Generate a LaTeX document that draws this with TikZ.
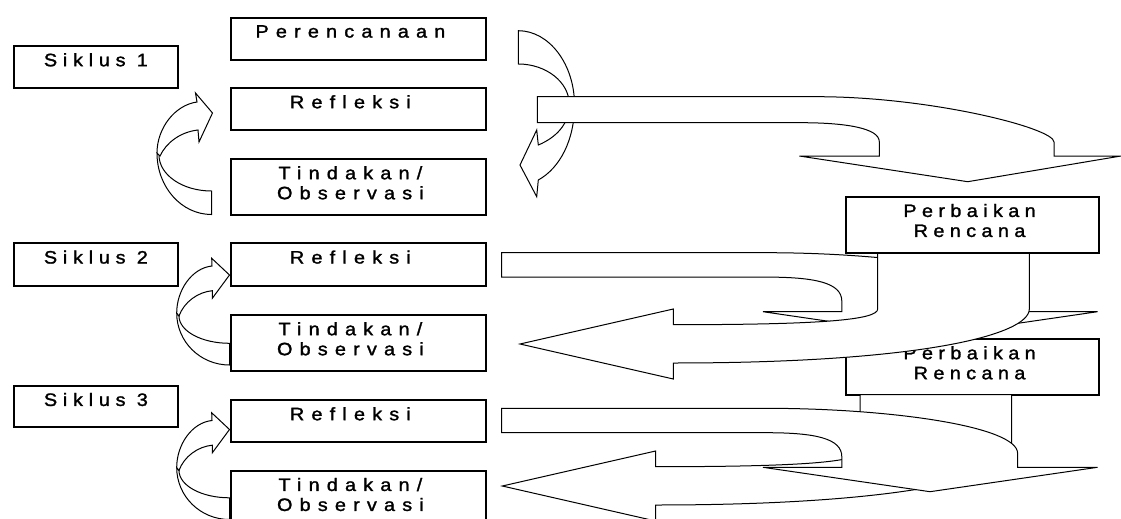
\documentclass[tikz,border=0pt]{standalone}
\usepackage{fontspec}
\setmainfont{Liberation Sans}
\newfontfamily\boxfont[FakeStretch=1.1, LetterSpace=40, FakeBold=1.5]{Liberation Sans}
\newfontfamily\planfont[FakeStretch=1.1, LetterSpace=30, FakeBold=1.5]{Liberation Sans}
\newfontfamily\cyclefont[FakeStretch=1.1, LetterSpace=32, FakeBold=1.5]{Liberation Sans}
\tikzset{
  box/.style={draw=black, fill=white, line width=1.8pt, inner sep=0pt, anchor=north west},
  blk/.style={draw=black, fill=white, line width=1pt, line join=miter},
  lbl/.style={inner sep=0pt, anchor=north, align=center,
    font=\boxfont\fontsize{18}{20}\selectfont},
  plbl/.style={lbl, font=\planfont\fontsize{18}{20}\selectfont},
  clbl/.style={lbl, font=\cyclefont\fontsize{18}{20}\selectfont},
  % curved arrow from Tindakan back up to Refleksi (cycles 2 and 3)
  pics/looparrow/.style={code={
    \draw[blk] (176.7,313) .. controls (176.7,341.7) and (200.3,365) .. (229.5,365)
      -- (229.5,343.3) .. controls (201.6,343.3) and (179,331.1) .. (179,316) -- cycle;
    \draw[blk] (176.7,313) .. controls (176.7,290) and (192,268) .. (212,266)
      -- (211.7,258.3) -- (229.5,275) -- (212.3,298.3) -- (212.3,290.7)
      .. controls (198,292) and (184,302) .. (179,316) -- cycle;
  }},
  % wide arrow from Refleksi bending down towards the next plan
  pics/downarrow/.style={code={
    \draw[blk] (501.7,0) -- (766,0) .. controls (890,0) and (1017.6,18) .. (1017.6,45)
      -- (1017.6,59) -- (1097.5,59) -- (930,83.4) -- (763,59) -- (841.8,59) -- (841.8,48.4)
      .. controls (841.8,30) and (815,24.4) .. (766,24.4) -- (501.7,24.4) -- cycle;
  }},
  % arrow leaving a revised plan, bending left to the next action
  pics/backarrow/.style={code={
    \draw[blk] (0,-56.3) -- (0,0) .. controls (0,11) and (-57.7,15.7) .. (-204.4,15.7)
      -- (-204.4,0) -- (-357.7,35) -- (-204.4,70) -- (-204.4,54)
      .. controls (42.3,54) and (151.6,26) .. (151.6,0) -- (151.6,-56.3) -- cycle;
  }},
}
\begin{document}
\begin{tikzpicture}[x=1pt, y=-1pt]
\useasboundingbox (0,0) rectangle (1121,519);
\clip (0,0) rectangle (1121,519);

% cycle 1 boxes
\node[box, minimum width=164pt, minimum height=42pt] (sik1) at (13,45) {};
\node[box, minimum width=255pt, minimum height=42pt] (per) at (230,17) {};
\node[box, minimum width=255pt, minimum height=42pt] (ref1) at (230,87) {};
\node[box, minimum width=255pt, minimum height=56pt] (tin1) at (230,158) {};
% cycle 2 boxes
\node[box, minimum width=164pt, minimum height=42.7pt] (sik2) at (13,242.3) {};
\node[box, minimum width=255pt, minimum height=42.7pt] (ref2) at (230,242.3) {};
\node[box, minimum width=255pt, minimum height=56pt] (tin2) at (230,314) {};
% cycle 3 boxes
\node[box, minimum width=164pt, minimum height=41pt] (sik3) at (13,384.7) {};
\node[box, minimum width=255pt, minimum height=41.7pt] (ref3) at (230,399) {};
\node[box, minimum width=255pt, minimum height=56pt] (tin3) at (230,469.7) {};

\node[clbl] (tsik1) at ([yshift=-8pt]sik1.north) {Siklus 1};
\node[lbl] (tper) at ([xshift=-8pt,yshift=-8pt]per.north) {Perencanaan};
\node[lbl] (tref1) at ([xshift=-8pt,yshift=-8pt]ref1.north) {Refleksi};
\node[lbl] (ttin1) at ([xshift=-8pt,yshift=-8pt]tin1.north) {Tindakan/\\Observasi};
\node[clbl] (tsik2) at ([yshift=-8pt]sik2.north) {Siklus 2};
\node[lbl] (tref2) at ([xshift=-8pt,yshift=-8pt]ref2.north) {Refleksi};
\node[lbl] (ttin2) at ([xshift=-8pt,yshift=-8pt]tin2.north) {Tindakan/\\Observasi};
\node[clbl] (tsik3) at ([yshift=-8pt]sik3.north) {Siklus 3};
\node[lbl] (tref3) at ([xshift=-8pt,yshift=-8pt]ref3.north) {Refleksi};
\node[lbl] (ttin3) at ([xshift=-8pt,yshift=-8pt]tin3.north) {Tindakan/\\Observasi};

% curved arrow beside Perencanaan, turning back towards Tindakan
\draw[blk] (518.3,30.7) .. controls (549,30.7) and (574.5,64) .. (574.5,105)
  .. controls (574.5,140) and (560,168) .. (538.3,180) -- (536.7,196.7) -- (520,165)
  -- (536.7,130) -- (538.3,145) .. controls (555,138) and (569.3,125) .. (569.3,104.5)
  .. controls (569.3,82) and (546,64) .. (518.3,64) -- cycle;

% wide arrow from Refleksi (cycle 1) down to the first revised plan
\draw[blk] (537.3,96.7) -- (817,96.7) .. controls (930,96.7) and (1054,128) .. (1054,142)
  -- (1054,156) -- (1121,156) -- (967.7,181.7) -- (799.3,156) -- (879.3,156) -- (879.3,141.7)
  .. controls (879.3,128) and (845,122.7) .. (801,122.7) -- (537.3,122.7) -- cycle;

% cycle 1 loop: Tindakan back to Refleksi
\draw[blk] (157,153) .. controls (157,187) and (181.4,214.5) .. (211.5,214.5)
  -- (211.5,191) .. controls (182.5,191) and (159,174.9) .. (159,155) -- cycle;
\draw[blk] (157,153) .. controls (157,128) and (175,105) .. (197,102)
  -- (195.5,93) -- (212.5,113) -- (199,142) -- (198,130)
  .. controls (180,132) and (166,143) .. (160,156) -- cycle;

% cycle 2 and cycle 3 loops
\pic (loop2) at (0,0) {looparrow};
\pic (loop3) at (0,154.5) {looparrow};

% cycle 2: Refleksi to the plan, plan back to Tindakan
\pic (down2) at (0,252.7) {downarrow};
\node[box, minimum width=253.3pt, minimum height=56pt] (pb2) at (845,338) {};
\node[plbl] (tpb2) at ([xshift=-3pt,yshift=-8pt]pb2.north) {Perbaikan\\Rencana};
\pic (back2) at (877.7,309) {backarrow};
\node[box, minimum width=253.3pt, minimum height=56pt] (pb1) at (845,195.7) {};
\node[plbl] (tpb1) at ([xshift=-3pt,yshift=-8pt]pb1.north) {Perbaikan\\Rencana};

% cycle 3: plan back to Tindakan, Refleksi to the plan on top
\pic (back3) at (860,451) {backarrow};
\pic (down3) at (0,408.3) {downarrow};
\end{tikzpicture}
\end{document}
